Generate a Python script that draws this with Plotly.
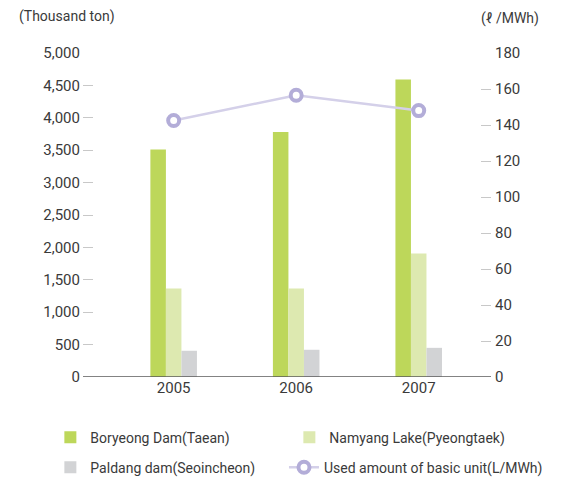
import plotly.graph_objects as go

years = ["2005", "2006", "2007"]
boryeong = [3510, 3780, 4590]
namyang = [1365, 1365, 1905]
paldang = [405, 420, 450]
unit_used = [142.5, 156.5, 148]

left_ticks = [0, 500, 1000, 1500, 2000, 2500, 3000, 3500, 4000, 4500, 5000]
right_ticks = [0, 20, 40, 60, 80, 100, 120, 140, 160, 180]

FONT = "Roboto"
TXT = "#3a3a3a"

fig = go.Figure()
fig.add_trace(go.Bar(x=years, y=boryeong, name="Boryeong Dam(Taean)",
                     marker=dict(color="#bdd75a", line=dict(width=0)), legend="legend"))
fig.add_trace(go.Bar(x=years, y=namyang, name="Namyang Lake(Pyeongtaek)",
                     marker=dict(color="#dde9b0", line=dict(width=0)), legend="legend"))
fig.add_trace(go.Bar(x=years, y=paldang, name="Paldang dam(Seoincheon)",
                     marker=dict(color="#d2d3d5", line=dict(width=0)), legend="legend2"))
fig.add_trace(go.Scatter(x=years, y=unit_used, name="Used amount of basic unit(L/MWh)",
                         yaxis="y2", mode="lines+markers",
                         line=dict(color="#d4d0e9", width=2.5),
                         marker=dict(size=11, color="white", line=dict(color="#b3add8", width=4)),
                         legend="legend3"))

leg_common = dict(orientation="h", xanchor="left", yanchor="middle",
                  font=dict(size=14, color=TXT), bgcolor="rgba(0,0,0,0)", traceorder="normal")

fig.update_layout(
    width=573, height=473,
    margin=dict(l=75, r=90, t=45, b=104, autoexpand=False),
    paper_bgcolor="white", plot_bgcolor="white",
    font=dict(family=FONT, size=15, color=TXT),
    barmode="group", bargap=0.62, bargroupgap=0,
    xaxis=dict(type="category", range=[-0.74, 2.59], showgrid=False,
               showline=False, ticks="", tickfont=dict(size=15, color=TXT)),
    yaxis=dict(range=[0, 5000], tickvals=left_ticks, tickformat=",",
               showgrid=False, zeroline=False, showline=False,
               ticks="inside", ticklen=10, tickwidth=1, tickcolor="#c8c8c8",
               ticklabelstandoff=2, tickfont=dict(size=15, color=TXT)),
    yaxis2=dict(range=[0, 180], tickvals=right_ticks, overlaying="y", side="right",
                showgrid=False, zeroline=False, showline=False,
                ticks="inside", ticklen=10, tickwidth=1, tickcolor="#c8c8c8",
                ticklabelstandoff=3, tickfont=dict(size=15, color=TXT)),
    legend=dict(x=-0.08, y=-0.1875, entrywidth=194, entrywidthmode="pixels", **leg_common),
    legend2=dict(x=-0.08, y=-0.28, **leg_common),
    legend3=dict(x=0.4926, y=-0.28, **leg_common),
    shapes=[dict(type="line", xref="paper", yref="y", x0=0, x1=1, y0=0, y1=0,
                 line=dict(color="#5a5a5a", width=1.5), layer="above")],
    annotations=[
        dict(text="(Thousand ton)", xref="paper", yref="paper", x=(17 - 83) / 408, y=(377.3 - 17) / 323.8,
             xanchor="left", yanchor="middle", showarrow=False, font=dict(size=14, color=TXT)),
        dict(text="(ℓ /MWh)", xref="paper", yref="paper", x=(479 - 83) / 408, y=(377.3 - 19) / 323.8,
             xanchor="left", yanchor="middle", showarrow=False, font=dict(size=14, color=TXT)),
    ],
)

fig.write_html("out.html")
